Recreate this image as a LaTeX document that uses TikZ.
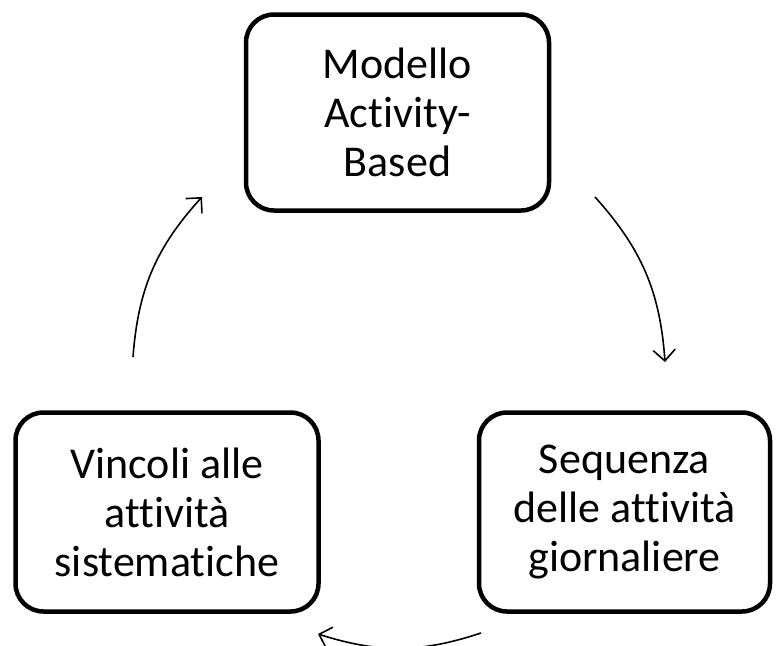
\documentclass[tikz,border=0pt]{standalone}
\usepackage{fontspec}
\setmainfont{Carlito}[Ligatures={NoCommon}]
\usetikzlibrary{arrows.meta}
\begin{document}
\begin{tikzpicture}[x=1pt,y=-1pt,
  box/.style={draw=black, line width=4.5pt, rounded corners=28pt, align=center,
    inner sep=0pt, font=\fontsize{44}{49}\selectfont},
  cyc/.style={line width=1.6pt, -{Straight Barb[length=11pt,width=22pt,line width=1.6pt]}}]
\useasboundingbox (0,0) rectangle (776,645);
\fill[white] (0,0) rectangle (776,645);
\node[box, minimum width=303pt, minimum height=196pt] (top) at (397.5,112.5) {Modello\\Activity-\\Based};
\node[box, minimum width=303pt, minimum height=199pt] (left) at (167,512) {Vincoli alle\\attività\\sistematiche};
\node[box, minimum width=291pt, minimum height=199pt] (right) at (624.5,512) {Sequenza\\delle attività\\giornaliere};
\coordinate (a1s) at (133,357);
\coordinate (a1e) at (202,197);
\coordinate (a2s) at (595,197);
\coordinate (a2e) at (665,362);
\coordinate (a3s) at (481,633);
\coordinate (a3e) at (318,634);
\draw[cyc] (a1s) to[bend left=19] (a1e);
\draw[cyc] (a2s) to[bend left=19] (a2e);
\draw[cyc] (a3s) to[bend left=18] (a3e);
\end{tikzpicture}
\end{document}
